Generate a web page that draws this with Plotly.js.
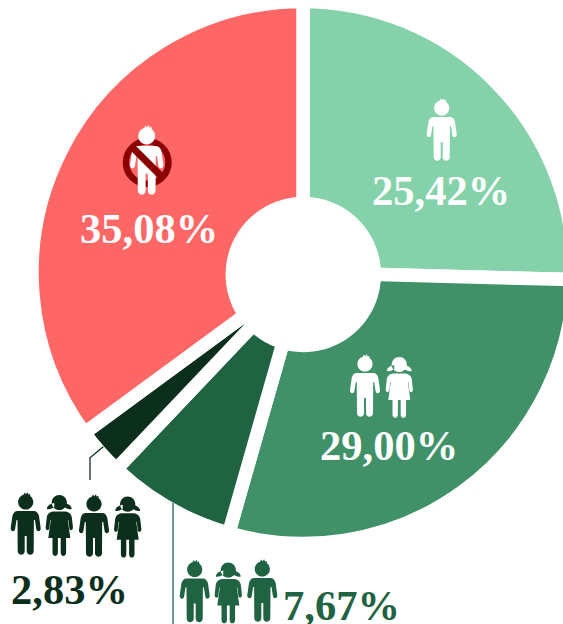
<!DOCTYPE html>
<html><head><meta charset="utf-8">
<script src="https://cdn.plot.ly/plotly-3.0.0.min.js"></script>
<style>html,body{margin:0;padding:0;background:#fff;overflow:hidden;width:563px;height:624px}</style>
</head><body><div id="chart"></div>
<script>
const categories = ['one child','two children','three children','four or more','no children'];
const shares = [25.42, 29.00, 7.67, 2.83, 35.08];
const shareLabels = ['25,42%','29,00%','7,67%','2,83%','35,08%'];
const sliceColors = ['#85D2AA','#409168','#1F6342','#0B2F1C','#FF6666'];
const labelColors = ['#ffffff','#ffffff','#1F6342','#0B2F1C','#ffffff'];
const labelAt = [[440.5,190],[388.5,445.5],[341.5,605.5],[69.5,589.5],[148.5,228.2]];

const W = 606, H = 624;
const px = x => x / W, py = y => 1 - y / H;

function toPath(cmds, ox, oy, s) {
  return cmds.map(c => {
    const [op, ...n] = c;
    let out = op;
    for (let i = 0; i < n.length; i += 2) {
      out += (i ? ' ' : '') + px(ox + n[i] * s).toFixed(5) + ',' + py(oy + n[i + 1] * s).toFixed(5) + ' ';
    }
    return out;
  }).join('');
}
function circ(cx, cy, r) {
  const k = 0.5523 * r;
  return [['M', cx - r, cy],
    ['C', cx - r, cy - k, cx - k, cy - r, cx, cy - r],
    ['C', cx + k, cy - r, cx + r, cy - k, cx + r, cy],
    ['C', cx + r, cy + k, cx + k, cy + r, cx, cy + r],
    ['C', cx - k, cy + r, cx - r, cy + k, cx - r, cy], ['Z']];
}
const boyCmds = [
  ...circ(0, 9, 7.6),
  ['M', -3, 3], ['L', -1, -0.5], ['L', 0.2, 1.2], ['L', 2, -0.8], ['L', 2.6, 1.4], ['L', 4.5, 1], ['L', 4.5, 5], ['Z'],
  ['M', -8, 18],
  ['C', -11, 18, -12.5, 20, -13.3, 23],
  ['L', -15, 35],
  ['C', -15.4, 38.5, -11.2, 39.5, -10.6, 36],
  ['L', -9.2, 27],
  ['L', -8.2, 27],
  ['L', -8, 58],
  ['C', -8, 63, -1, 63, -1, 58],
  ['L', -1, 43],
  ['L', 1, 43],
  ['L', 1, 58],
  ['C', 1, 63, 8, 63, 8, 58],
  ['L', 8.2, 27],
  ['L', 9.2, 27],
  ['L', 10.6, 36],
  ['C', 11.2, 39.5, 15.4, 38.5, 15, 35],
  ['L', 13.3, 23],
  ['C', 12.5, 20, 11, 18, 8, 18],
  ['Z']
];
const girlCmds = [
  ...circ(0, 8.5, 7.6),
  ['M', -5, 9], ['C', -10, 10, -12, 12, -12.5, 15], ['C', -10, 15.5, -8, 15, -5, 13], ['Z'],
  ['M', 5, 9], ['C', 10, 10, 12, 12, 12.5, 15], ['C', 10, 15.5, 8, 15, 5, 13], ['Z'],
  ['M', -6, 17.5],
  ['C', -10, 18, -12, 20, -12.6, 24],
  ['L', -13.6, 33],
  ['C', -14, 37, -10, 37, -10, 34],
  ['L', -9, 26],
  ['L', -8.5, 26],
  ['L', -11, 44],
  ['L', -6.8, 44],
  ['L', -6.8, 58.5],
  ['C', -6.8, 63, -1.4, 63, -1.4, 58.5],
  ['L', -1.4, 44],
  ['L', 1.4, 44],
  ['L', 1.4, 58.5],
  ['C', 1.4, 63, 6.8, 63, 6.8, 58.5],
  ['L', 6.8, 44],
  ['L', 11, 44],
  ['L', 8.5, 26],
  ['L', 9, 26],
  ['L', 10, 34],
  ['C', 10, 37, 14, 37, 13.6, 33],
  ['L', 12.6, 24],
  ['C', 12, 20, 10, 18, 6, 17.5],
  ['Z']
];
function fig(cmds, cx, top, s, color) {
  return {type:'path', xref:'paper', yref:'paper', path:toPath(cmds, cx, top, s),
          fillcolor:color, fillrule:'nonzero', line:{width:0}, layer:'above'};
}
function seg(pts, color, width) {
  const path = pts.map((p,i)=>(i?'L':'M')+px(p[0]).toFixed(5)+','+py(p[1]).toFixed(5)).join(' ');
  return {type:'path', xref:'paper', yref:'paper', path, line:{color, width}, fillcolor:'rgba(0,0,0,0)', layer:'above'};
}
const DARKEST = sliceColors[3], DARK = sliceColors[2], NOPE = '#8B0000';
const shapes = [
  {type:'path', xref:'paper', yref:'paper', path:toPath(circ(303.3,274.5,77.7),0,0,1),
   line:{width:0}, fillcolor:'#ffffff', layer:'above'},
  fig(boyCmds, 441.7, 99, 1, '#fff'),
  fig(boyCmds, 365, 355, 1, '#fff'),
  fig(girlCmds, 399.3, 356, 1, '#fff'),
  {type:'path', xref:'paper', yref:'paper', path:toPath(circ(147.2,162.5,21.3),0,0,1),
   line:{color:NOPE,width:6.5}, fillcolor:'rgba(0,0,0,0)', layer:'above'},
  fig(boyCmds, 146.7, 126, 1.11, '#fff'),
  seg([[132,147],[163,178]], NOPE, 7),
  seg([[103.3,446.7],[90,457.7],[90,480]], DARKEST, 1.3),
  seg([[173,503],[173,624]], DARK, 1.3),
  fig(boyCmds, 25.7, 493, 1, DARKEST),
  fig(girlCmds, 59.3, 494, 1, DARKEST),
  fig(boyCmds, 94, 495, 1, DARKEST),
  fig(girlCmds, 127.7, 495.7, 1, DARKEST),
  fig(boyCmds, 194.7, 560.5, 1, DARK),
  fig(girlCmds, 228.3, 561.5, 1, DARK),
  fig(boyCmds, 262.3, 560, 1, DARK)
];
const annotations = shareLabels.map((t,i)=>{
  const a = {
    text:t, xref:'paper', yref:'paper', x:px(labelAt[i][0]), y:py(labelAt[i][1]),
    xanchor:'center', yanchor:'middle', showarrow:false, borderpad:0,
    font:{family:'"Liberation Serif","Times New Roman",serif', size:42.5, color:labelColors[i], weight:700}
  };
  if (i === 2) { // keep this label's box inside the page bottom
    a.y = py(581); a.yanchor = 'top'; a.height = 43; a.valign = 'top';
  }
  return a;
});
const R = 271, CX = 303, CY = 272.5;
Plotly.newPlot('chart', [{
  type:'pie', labels:categories, values:shares, sort:false, direction:'clockwise', rotation:0,
  hole:68.25/R, textinfo:'none', hoverinfo:'none', showlegend:false,
  marker:{colors:sliceColors, line:{color:'#ffffff', width:13.5}},
  domain:{x:[(CX-R)/W,(CX+R)/W], y:[(H-CY-R)/H,(H-CY+R)/H]}
}], {
  width:W, height:H, margin:{l:0,r:0,t:0,b:0,pad:0}, paper_bgcolor:'#fff', showlegend:false,
  shapes, annotations
}, {staticPlot:true, displayModeBar:false});
</script></body></html>
